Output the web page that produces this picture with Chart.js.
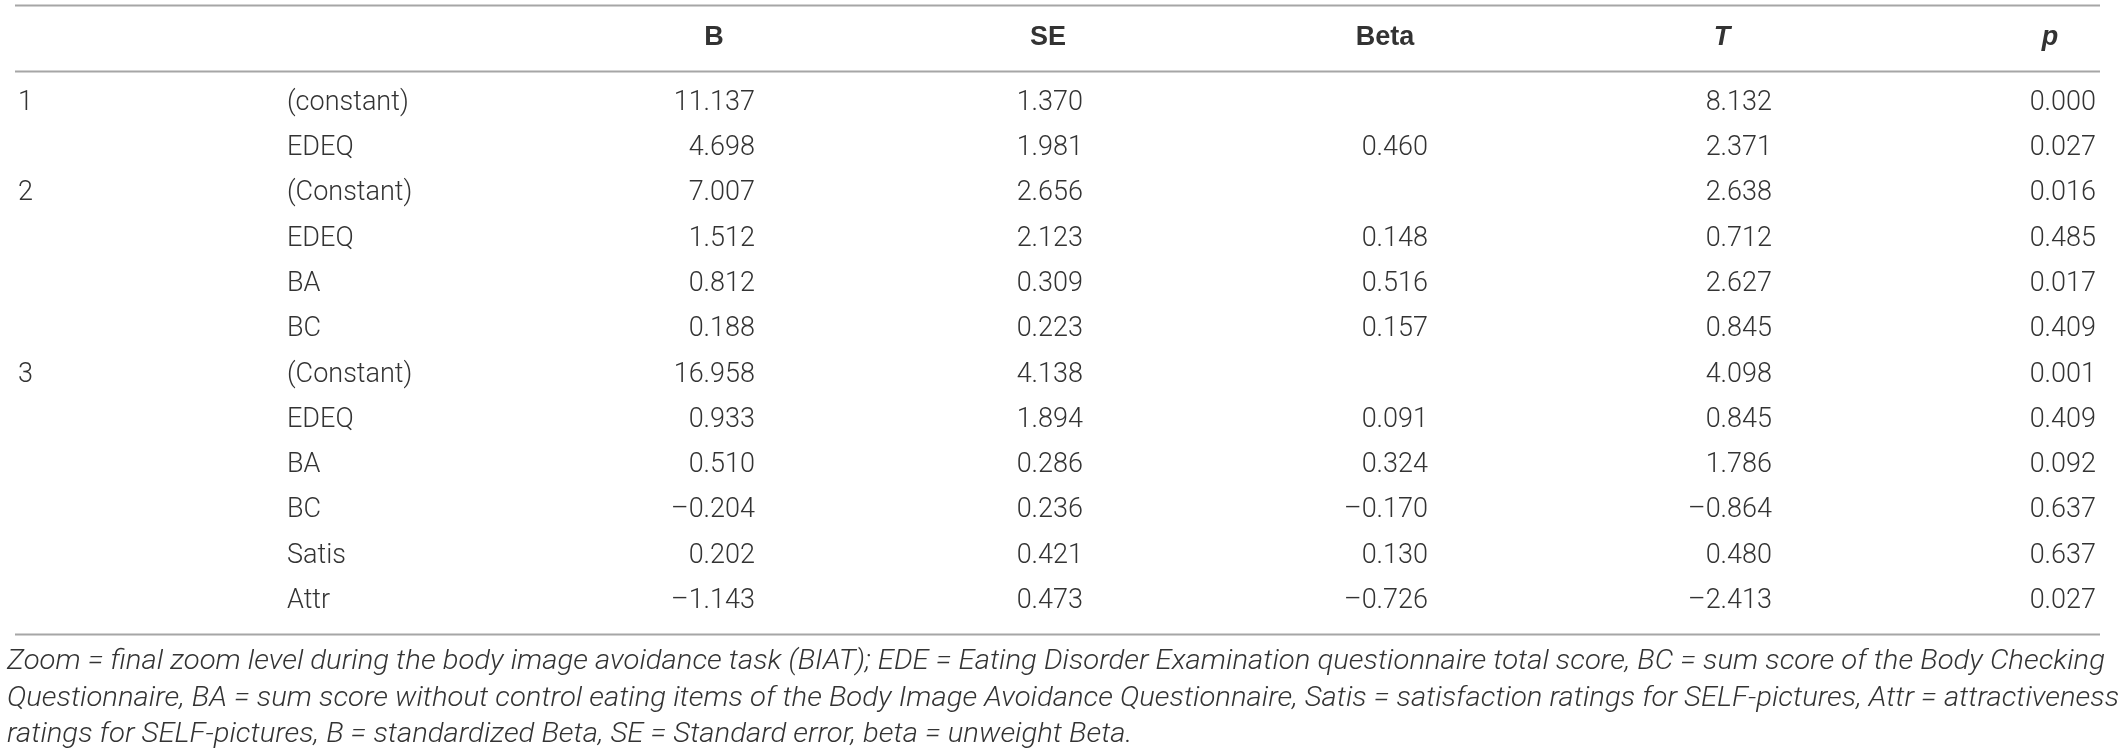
<!DOCTYPE html>
<html>
<head>
<meta charset="utf-8">
<script src="https://cdn.jsdelivr.net/npm/chart.js@4.4.1/dist/chart.umd.min.js"></script>
<style>
  html, body { margin: 0; padding: 0; background: #fff; }
  .wrap { width: 2118px; height: 756px; position: relative; }
</style>
</head>
<body>
<div class="wrap"><canvas class="table-chart"></canvas></div>
<script>
const headers = ['', '', 'B', 'SE', 'Beta', 'T', 'p'];
const models = ['1', '', '2', '', '', '', '3', '', '', '', '', ''];
const terms = ['(constant)', 'EDEQ', '(Constant)', 'EDEQ', 'BA', 'BC', '(Constant)', 'EDEQ', 'BA', 'BC', 'Satis', 'Attr'];
const bValues = [11.137, 4.698, 7.007, 1.512, 0.812, 0.188, 16.958, 0.933, 0.510, -0.204, 0.202, -1.143];
const seValues = [1.370, 1.981, 2.656, 2.123, 0.309, 0.223, 4.138, 1.894, 0.286, 0.236, 0.421, 0.473];
const betaValues = [null, 0.460, null, 0.148, 0.516, 0.157, null, 0.091, 0.324, -0.170, 0.130, -0.726];
const tValues = [8.132, 2.371, 2.638, 0.712, 2.627, 0.845, 4.098, 0.845, 1.786, -0.864, 0.480, -2.413];
const pValues = [0.000, 0.027, 0.016, 0.485, 0.017, 0.409, 0.001, 0.409, 0.092, 0.637, 0.637, 0.027];
const footnote = [
  'Zoom = final zoom level during the body image avoidance task (BIAT); EDE = Eating Disorder Examination questionnaire total score, BC = sum score of the Body Checking',
  'Questionnaire, BA = sum score without control eating items of the Body Image Avoidance Questionnaire, Satis = satisfaction ratings for SELF-pictures, Attr = attractiveness',
  'ratings for SELF-pictures, B = standardized Beta, SE = Standard error, beta = unweight Beta.',
];

// layout (pixels on the x scale, row units on the y scale)
const colAnchor = [18, 287, 755, 1083, 1428, 1772, 2096];
const colAlign = ['left', 'left', 'right', 'right', 'right', 'right', 'right'];
const headCenter = [0, 0, 714, 1048, 1385, 1722, 2050];
const headItalic = [false, false, false, false, false, true, true];
const ruleRows = [-2.163, -0.706, 11.722];
const headRow = -1.435;
const noteRows = [12.34, 13.157, 13.95];

const textColor = '#333333';
const ruleColor = '#a6a6a6';
const bodyFont = '300 27px Roboto, "Liberation Sans", sans-serif';

const fmt = (v) => {
  if (v === null) return '';
  const s = Math.abs(v).toFixed(3);
  return v < 0 ? '\u2013' + s : s;
};

const columns = [
  models,
  terms,
  bValues.map(fmt),
  seValues.map(fmt),
  betaValues.map(fmt),
  tValues.map(fmt),
  pValues.map(fmt),
];

const tablePlugin = {
  id: 'tableText',
  afterDatasetsDraw(chart) {
    const ctx = chart.ctx;
    const x = chart.scales.x;
    const y = chart.scales.y;

    ctx.save();
    ctx.strokeStyle = ruleColor;
    ctx.lineWidth = 2;
    ruleRows.forEach((r) => {
      const py = Math.round(y.getPixelForValue(r)) + 0.5;
      ctx.beginPath();
      ctx.moveTo(x.getPixelForValue(15), py);
      ctx.lineTo(x.getPixelForValue(2100), py);
      ctx.stroke();
    });

    ctx.fillStyle = textColor;
    ctx.textBaseline = 'middle';

    // header row
    ctx.textAlign = 'center';
    headers.forEach((h, i) => {
      if (!h) return;
      ctx.font = (headItalic[i] ? 'italic ' : '') + 'bold 27px "Liberation Sans", Arial, sans-serif';
      ctx.fillText(h, x.getPixelForValue(headCenter[i]), y.getPixelForValue(headRow));
    });

    // cells, placed on the dataset points
    ctx.font = bodyFont;
    chart.data.datasets.forEach((ds, di) => {
      const meta = chart.getDatasetMeta(di);
      ctx.textAlign = ds.textAlign;
      meta.data.forEach((el, i) => {
        const t = ds.texts[i];
        if (t) ctx.fillText(t, el.x, el.y);
      });
    });

    // footnote, condensed to the table width
    ctx.font = 'italic 300 27px Roboto, "Liberation Sans", sans-serif';
    ctx.textAlign = 'left';
    const left = x.getPixelForValue(7);
    const target = x.getPixelForValue(2105) - left;
    const sx = target / ctx.measureText(footnote[0]).width;
    footnote.forEach((line, i) => {
      ctx.save();
      ctx.translate(left, y.getPixelForValue(noteRows[i]));
      ctx.scale(sx, 1);
      ctx.fillText(line, 0, 0);
      ctx.restore();
    });
    ctx.restore();
  },
};

const datasets = columns.map((texts, c) => ({
  label: headers[c] || 'col' + c,
  data: texts.map((t, i) => ({ x: colAnchor[c], y: i })),
  texts: texts,
  textAlign: colAlign[c],
  pointRadius: 0,
  pointHoverRadius: 0,
  showLine: false,
}));

const tableChart = document.querySelector('.table-chart');

new Chart(tableChart, {
  type: 'scatter',
  data: { datasets },
  options: {
    responsive: true,
    maintainAspectRatio: false,
    animation: false,
    events: [],
    layout: { padding: 0 },
    plugins: {
      legend: { display: false },
      tooltip: { enabled: false },
    },
    scales: {
      x: { type: 'linear', min: 0, max: 2118, display: false },
      y: { type: 'linear', min: -103 / 45.3, max: (756 - 103) / 45.3, reverse: true, display: false },
    },
  },
  plugins: [tablePlugin],
});
</script>
</body>
</html>
